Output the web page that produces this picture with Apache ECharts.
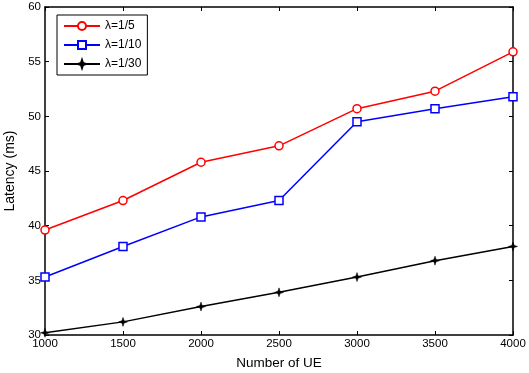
<!DOCTYPE html>
<html><head><meta charset="utf-8">
<script src="https://cdn.jsdelivr.net/npm/echarts@6/dist/echarts.min.js"></script>
<style>html,body{margin:0;padding:0;background:#fff}#c{width:529px;height:373px}</style>
</head><body><div id="c"></div>
<script>
const ues = [1000, 1500, 2000, 2500, 3000, 3500, 4000];
const lambda5 = [39.6, 42.3, 45.8, 47.3, 50.7, 52.3, 55.9];
const lambda10 = [35.3, 38.1, 40.8, 42.3, 49.5, 50.7, 51.8];
const lambda30 = [30.2, 31.2, 32.6, 33.9, 35.3, 36.8, 38.1];
const names = ['λ=1/5', 'λ=1/10', 'λ=1/30'];

const pairs = arr => ues.map((u, i) => [u, arr[i]]);
const star = 'path://M0,-10 L2.5,-2.5 L10,0 L2.5,2.5 L0,10 L-2.5,2.5 L-10,0 L-2.5,-2.5 Z';
const font = 'Liberation Sans, Arial, sans-serif';
const axisCommon = {
  axisLine: {show: true, lineStyle: {color: '#000', width: 1.5}},
  axisTick: {show: true, inside: true, length: 4, lineStyle: {color: '#000'}},
  splitLine: {show: false}
};
const chart = echarts.init(document.getElementById('c'));
chart.setOption({
  animation: false,
  grid: {left: 45, right: 16, top: 7, bottom: 38, containLabel: false, outerBoundsMode: 'none'},
  legend: {
    left: 57, top: 15, orient: 'vertical', itemGap: 7, itemWidth: 36, itemHeight: 10,
    borderColor: '#000', borderWidth: 1, padding: [5, 6, 5, 6], backgroundColor: '#fff',
    textStyle: {fontFamily: font, fontSize: 12, color: '#000'},
    data: names
  },
  xAxis: [
    Object.assign({type: 'value', min: 1000, max: 4000, interval: 500,
      name: 'Number of UE', nameLocation: 'middle', nameGap: 21,
      nameTextStyle: {fontFamily: font, fontSize: 13.5, color: '#000'},
      axisLabel: {fontFamily: font, fontSize: 11.5, color: '#000', margin: 3, formatter: v => String(v)}}, axisCommon),
    Object.assign({type: 'value', min: 1000, max: 4000, interval: 500, position: 'top',
      axisLabel: {show: false}}, axisCommon)
  ],
  yAxis: [
    Object.assign({type: 'value', min: 30, max: 60, interval: 5,
      name: 'Latency (ms)', nameLocation: 'middle', nameGap: 21,
      nameTextStyle: {fontFamily: font, fontSize: 14, color: '#000'},
      axisLabel: {fontFamily: font, fontSize: 11.5, color: '#000', margin: 4}}, axisCommon),
    Object.assign({type: 'value', min: 30, max: 60, interval: 5, position: 'right',
      axisLabel: {show: false}}, axisCommon)
  ],
  series: [
    {name: names[0], type: 'line', data: pairs(lambda5),
     symbol: 'circle', symbolSize: 8, lineStyle: {width: 1.5, color: '#ff0000'},
     itemStyle: {color: '#fff', borderColor: '#ff0000', borderWidth: 1.5}},
    {name: names[1], type: 'line', data: pairs(lambda10),
     symbol: 'rect', symbolSize: 8, lineStyle: {width: 1.5, color: '#0000ff'},
     itemStyle: {color: '#fff', borderColor: '#0000ff', borderWidth: 1.5}},
    {name: names[2], type: 'line', data: pairs(lambda30),
     symbol: star, symbolSize: 9, lineStyle: {width: 1.5, color: '#000'},
     itemStyle: {color: '#000', borderColor: '#000', borderWidth: 0.5}}
  ]
});
</script></body></html>
